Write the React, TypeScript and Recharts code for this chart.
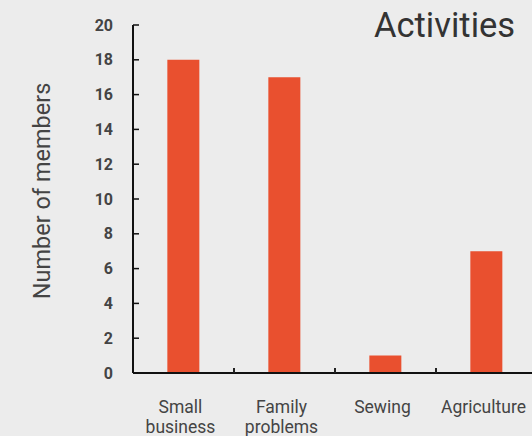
import { BarChart, Bar, XAxis, YAxis, Label } from "recharts";

const categories = ["Small business", "Family problems", "Sewing", "Agriculture"];
const members = [18, 17, 1, 7];
const yTicks = [0, 2, 4, 6, 8, 10, 12, 14, 16, 18, 20];

const data = categories.map((name, i) => ({ name, members: members[i] }));

const FONT = "Roboto, 'Noto Sans', sans-serif";
const CHART_W = 560;
const CHART_H = 436;
const Y_AXIS_W = 133;
const MARGIN = { top: 25, right: 23, left: 0, bottom: 0 };
const BAND = (CHART_W - Y_AXIS_W - MARGIN.right) / categories.length;

// category label split over two lines, plus a small tick at the left edge of each band
function CategoryTick(props: any) {
  const { x, y, payload, index } = props;
  const words = String(payload.value).split(" ");
  return (
    <g>
      {index > 0 && (
        <line x1={x - BAND / 2} x2={x - BAND / 2} y1={y - 5} y2={y} stroke="#222" strokeWidth={2} />
      )}
      <text x={x - 3} y={y + 40} textAnchor="middle" fill="#444" fontSize={17.5} fontFamily={FONT}>
        {words.map((w, i) => (
          <tspan key={i} x={x - 3} dy={i === 0 ? 0 : 20}>
            {w}
          </tspan>
        ))}
      </text>
    </g>
  );
}

export default function App() {
  return (
    <div
      style={{
        position: "fixed",
        top: 0,
        left: 0,
        width: 532,
        height: 436,
        overflow: "hidden",
        background: "#ececec",
        fontFamily: FONT,
      }}
    >
      <BarChart width={CHART_W} height={CHART_H} data={data} margin={MARGIN} barCategoryGap="34%">
        <XAxis
          dataKey="name"
          height={63}
          tickLine={false}
          tickSize={0}
          tickMargin={0}
          axisLine={{ stroke: "#111", strokeWidth: 2 }}
          tick={<CategoryTick />}
          interval={0}
        />
        <YAxis
          width={Y_AXIS_W}
          domain={[0, 20]}
          ticks={yTicks}
          interval={0}
          tickSize={-6}
          tickMargin={26}
          axisLine={{ stroke: "#111", strokeWidth: 2 }}
          tickLine={{ stroke: "#111", strokeWidth: 1.5 }}
          tick={{ fill: "#444", fontSize: 16, fontWeight: 700, fontFamily: FONT }}
        >
          <Label
            content={() => (
              <text
                x={50}
                y={191}
                transform="rotate(-90 50 191)"
                textAnchor="middle"
                fill="#444"
                fontSize={23.5}
                fontFamily={FONT}
              >
                Number of members
              </text>
            )}
          />
        </YAxis>
        <Bar dataKey="members" fill="#e9502f" isAnimationActive={false} />
      </BarChart>
      <div
        style={{
          position: "absolute",
          top: 5,
          left: 374,
          fontSize: 34.5,
          color: "#333",
          lineHeight: "40px",
        }}
      >
        Activities
      </div>
    </div>
  );
}
